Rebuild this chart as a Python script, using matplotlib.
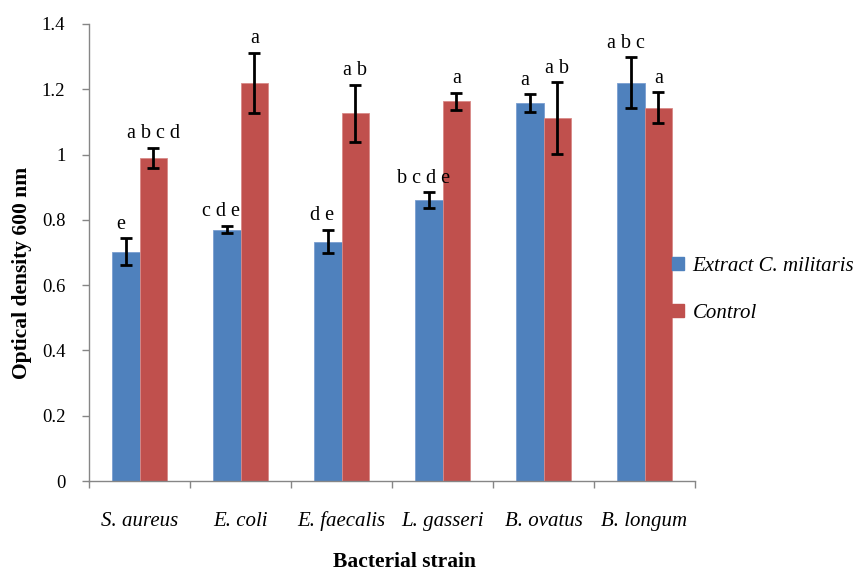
import matplotlib
matplotlib.use("Agg")
import matplotlib.pyplot as plt
import numpy as np
from matplotlib.patches import Patch

categories = ["S. aureus", "E. coli", "E. faecalis", "L. gasseri", "B. ovatus", "B. longum"]
extract_vals = [0.703, 0.770, 0.733, 0.860, 1.157, 1.220]
extract_err = [0.040, 0.011, 0.036, 0.024, 0.028, 0.078]
control_vals = [0.990, 1.220, 1.126, 1.164, 1.112, 1.144]
control_err = [0.030, 0.092, 0.087, 0.026, 0.110, 0.047]
extract_letters = ["e", "c d e", "d e", "b c d e", "a", "a b c"]
control_letters = ["a b c d", "a", "a b", "a", "a b", "a"]
series_names = ["Extract C. militaris", "Control"]
yticks = [0, 0.2, 0.4, 0.6, 0.8, 1, 1.2, 1.4]
ytick_labels = ["0", "0.2", "0.4", "0.6", "0.8", "1", "1.2", "1.4"]

blue = "#4F81BD"
red = "#C0504D"
axis_col = "#868686"
plt.rcParams["font.family"] = ["Liberation Serif", "DejaVu Serif"]

fig = plt.figure(figsize=(8.63, 5.72), dpi=100)
ax = fig.add_axes([89/863, (572-481)/572, (695-89)/863, (481-24)/572])

x = np.arange(len(categories))
w = 0.277
ax.bar(x - w/2, extract_vals, w, color=blue, edgecolor="#7A9ED0", linewidth=0.6, zorder=2)
ax.bar(x + w/2, control_vals, w, color=red, edgecolor="#D88A88", linewidth=0.6, zorder=2)
ax.errorbar(x - w/2, extract_vals, yerr=extract_err, fmt="none", ecolor="black",
            elinewidth=2, capsize=4.3, capthick=2, zorder=3)
ax.errorbar(x + w/2, control_vals, yerr=control_err, fmt="none", ecolor="black",
            elinewidth=2, capsize=4.3, capthick=2, zorder=3)

for i in range(len(categories)):
    ax.text(x[i] - w/2 - 0.05, extract_vals[i] + extract_err[i] + 0.014, extract_letters[i],
            ha="center", va="bottom", fontsize=14.5)
    ax.text(x[i] + w/2, control_vals[i] + control_err[i] + 0.014, control_letters[i],
            ha="center", va="bottom", fontsize=14.5)

ax.set_xlim(-0.5, len(categories) - 0.5)
ax.set_ylim(0, 1.4)
ax.set_yticks(yticks)
ax.set_yticklabels(ytick_labels, fontsize=13.5)
ax.set_xticks(x)
ax.set_xticklabels(categories, fontsize=15, style="italic")
ax.set_xticks(np.arange(len(categories) + 1) - 0.5, minor=True)
ax.tick_params(axis="x", which="major", length=0, pad=22)
ax.tick_params(axis="x", which="minor", length=5, color=axis_col, width=1, direction="out")
ax.tick_params(axis="y", length=5, color=axis_col, width=1, direction="out", pad=12)

for s in ["top", "right"]:
    ax.spines[s].set_visible(False)
for s in ["left", "bottom"]:
    ax.spines[s].set_color(axis_col)
    ax.spines[s].set_linewidth(1)

fig.text(22/863, (572-273)/572, "Optical density 600 nm", rotation=90, ha="center", va="center",
         fontsize=15.5, fontweight="bold")
fig.text(404/863, (572-562)/572, "Bacterial strain", ha="center", va="center",
         fontsize=15.5, fontweight="bold")

handles = [Patch(facecolor=blue, edgecolor=blue), Patch(facecolor=red, edgecolor=red)]
leg = fig.legend(handles, series_names, loc="center left", bbox_to_anchor=(653/863, (572-290)/572),
                 frameon=False, prop={"style": "italic", "size": 15},
                 handlelength=0.6, handleheight=0.6, handletextpad=0.4, labelspacing=1.35)

fig.savefig("out.png", dpi=100)
